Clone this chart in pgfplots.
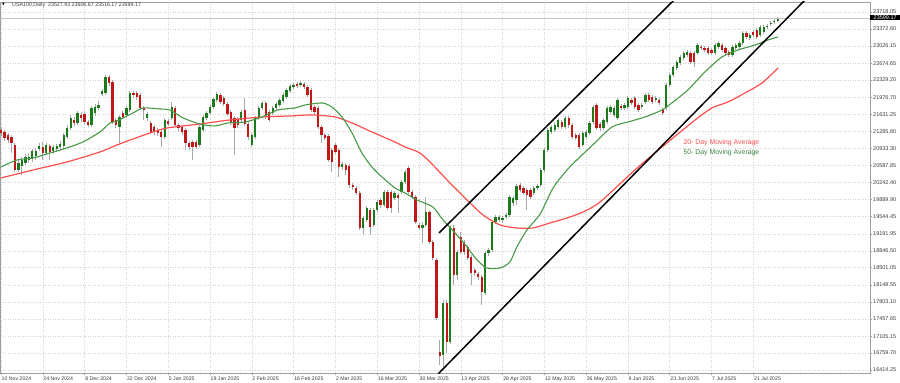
\documentclass[border=0pt]{standalone}
\usepackage{fontspec}
\setmainfont{Liberation Sans}
\newfontfamily\symfont{DejaVu Sans}
\usepackage{pgfplots}
\usepackage{pgfplotstable}
\pgfplotsset{compat=1.18}
\definecolor{cgreen}{RGB}{28,122,28}
\definecolor{cred}{RGB}{192,24,24}
\definecolor{wick}{RGB}{168,168,168}
\definecolor{mared}{RGB}{255,78,78}
\definecolor{magreen}{RGB}{72,152,72}
\definecolor{gridc}{RGB}{212,212,212}
\definecolor{lblc}{RGB}{60,60,60}

\pgfplotstableread{
i o h l c
0 21311 21372 21189 21250
1 21270 21311 21087 21148
2 21209 21250 21046 21107
3 21168 21209 20842 21046
4 21005 21046 20454 20495
5 20495 20699 20454 20638
6 20577 20760 20393 20699
7 20638 20821 20597 20760
8 20699 20842 20638 20760
9 20719 20923 20658 20883
10 20781 20944 20699 20883
11 20923 21046 20883 20985
12 20964 21066 20699 20842
13 20842 21046 20801 21005
14 20985 21025 20699 20862
15 20883 21005 20821 20964
16 20923 21025 20862 20985
17 20964 21087 20903 21025
18 20985 21250 20923 21209
19 21168 21413 21127 21352
20 21352 21617 21311 21556
21 21515 21576 21393 21454
22 21454 21699 21413 21658
23 21617 21678 21474 21556
24 21637 21699 21433 21474
25 21474 21515 21372 21413
26 21413 21801 21372 21760
27 21658 21841 21597 21780
28 21760 21903 21719 21821
29 22045 22147 22005 22107
30 22066 22433 22025 22392
31 22392 22433 22209 22270
32 22290 22331 21433 21474
33 21515 21556 21352 21413
34 21372 21617 21046 21576
35 21658 21699 21535 21576
36 21617 21801 21576 21760
37 21719 22107 21678 22066
38 22066 22107 21964 22025
39 22066 22107 21923 21984
40 22025 22066 21719 21760
41 21760 21801 21515 21719
42 21556 21678 21495 21637
43 21454 21495 21229 21270
44 21372 21413 21209 21270
45 21311 21352 21189 21250
46 21270 21311 20964 21168
47 21168 21556 21127 21515
48 21495 21535 21393 21433
49 21556 21882 21515 21780
50 21760 21801 21372 21413
51 21413 21454 21291 21352
52 21372 21413 21209 21270
53 21311 21352 20903 21046
54 21046 21087 20903 20964
55 21066 21107 20699 20964
56 21066 21107 20923 20964
57 21005 21413 20964 21372
58 21311 21617 21270 21576
59 21556 21699 21515 21658
60 21658 21821 21617 21780
61 21780 21984 21739 21943
62 21923 22086 21882 22045
63 22025 22066 21841 21882
64 21964 22005 21801 21841
65 21841 21882 21597 21637
66 21678 21719 21413 21474
67 21556 21597 20801 21352
68 21535 21576 21352 21413
69 21515 21719 21474 21678
70 21719 21964 21393 21433
71 21433 21474 21107 21168
72 21005 21250 20964 21209
73 21168 21597 21127 21556
74 21556 21801 21515 21760
75 21760 21903 21719 21862
76 21862 21903 21535 21576
77 21678 21719 21474 21515
78 21658 21801 21617 21760
79 21760 21882 21719 21841
80 21821 21964 21780 21923
81 21903 22066 21862 22025
82 21984 22168 21943 22127
83 22107 22249 22066 22209
84 22188 22270 22147 22229
85 22249 22290 22168 22209
86 22229 22311 22188 22270
87 22249 22290 22147 22188
88 22188 22229 21984 22025
89 22127 22168 21678 21719
90 21780 21821 21637 21678
91 21760 21801 21331 21372
92 21372 21413 21046 21209
93 21209 21250 21107 21148
94 21189 21229 20658 20699
95 20903 20944 20454 20658
96 21005 21046 20821 20862
97 20903 20944 20352 20556
98 20556 20658 20495 20617
99 20597 20638 20393 20495
100 20577 20617 20128 20189
101 20189 20230 20087 20148
102 20128 20169 19985 20026
103 20026 20067 19271 19312
104 19312 19557 19169 19516
105 19475 19761 19434 19720
106 19679 19720 19169 19332
107 19373 19720 19332 19679
108 19679 19883 19638 19842
109 19883 19924 19720 19781
110 19781 20087 19740 20046
111 20046 20087 19679 19720
112 20046 20087 19618 19720
113 19924 20067 19883 20026
114 19985 20026 19618 19924
115 20046 20291 20005 20250
116 20250 20495 20209 20454
117 20536 20577 20005 20046
118 20046 20087 19903 19944
119 19944 19985 19393 19434
120 19373 19414 19271 19312
121 19312 19434 19006 19373
122 19373 19944 19332 19638
123 19638 19679 18985 19026
124 19026 19067 18659 18700
125 18659 18700 17435 17476
126 16782 17027 16517 16701
127 16721 17843 16476 17782
128 17782 17843 16762 16986
129 16986 19373 16945 19332
130 19312 19373 18149 18353
131 18353 18863 18251 18822
132 19128 19230 18782 18822
133 19026 19067 18761 18822
134 18924 18965 18659 18700
135 18720 18761 18149 18394
136 18455 18496 18333 18394
137 18373 18414 18251 18312
138 18312 18353 17741 18006
139 17986 18843 17945 18802
140 18802 18904 18741 18863
141 18863 19475 18822 19434
142 19434 19577 19393 19536
143 19475 19577 19434 19536
144 19475 19557 19414 19516
145 19536 19618 19495 19577
146 19577 19985 19536 19944
147 19822 19965 19761 19924
148 19883 20209 19781 20169
149 20189 20230 20046 20087
150 20128 20169 19985 20026
151 20087 20128 19679 19985
152 20087 20128 19903 19944
153 20026 20169 19985 20128
154 20128 20209 20087 20169
155 20189 20536 20148 20495
156 20495 20944 20454 20903
157 20903 21352 20862 21311
158 21270 21413 21229 21372
159 21311 21454 21270 21413
160 21372 21556 21331 21515
161 21474 21515 21331 21372
162 21372 21597 21331 21556
163 21556 21597 21352 21413
164 21413 21454 21127 21168
165 21209 21250 21107 21148
166 21209 21250 20923 20964
167 21005 21291 20964 21250
168 21168 21311 21127 21270
169 21250 21495 21209 21454
170 21474 21821 21433 21780
171 21821 21862 21311 21352
172 21433 21474 21291 21352
173 21352 21556 21311 21515
174 21474 21801 21433 21760
175 21678 21821 21637 21780
176 21617 21801 21576 21760
177 21556 21964 21515 21923
178 21801 21841 21719 21760
179 21760 21862 21719 21821
180 21780 22005 21739 21964
181 21923 21964 21821 21862
182 21964 22005 21739 21780
183 21821 21862 21678 21719
184 21780 21862 21739 21821
185 21882 22066 21841 22025
186 22025 22066 21882 21923
187 21984 22025 21841 21882
188 21923 22005 21882 21964
189 21923 21964 21821 21862
190 21719 21760 21617 21658
191 21760 22270 21719 22229
192 22229 22474 22188 22433
193 22433 22637 22392 22596
194 22576 22739 22535 22698
195 22678 22841 22637 22800
196 22780 22923 22739 22882
197 22841 22943 22800 22902
198 22882 22923 22657 22698
199 22882 22923 22596 22698
200 22882 23086 22841 23045
201 23004 23045 22943 22984
202 22984 23025 22902 22943
203 22984 23025 22841 22882
204 22943 22984 22841 22882
205 22882 23086 22841 23045
206 23004 23127 22963 23086
207 23045 23086 22902 22943
208 22984 23025 22841 22882
209 22902 22943 22800 22841
210 22841 23045 22800 23004
211 22984 23086 22943 23045
212 23004 23127 22963 23086
213 23086 23331 23045 23290
214 23290 23331 23167 23208
215 23188 23290 23147 23249
216 23310 23351 23208 23249
217 23351 23392 23167 23208
218 23249 23453 23208 23412
219 23310 23453 23269 23412
220 23412 23473 23371 23433
221 23473 23535 23433 23494
222 23514 23575 23473 23535
223 23527.93 23606.67 23516.17 23599.17
}\candles

\begin{document}
\begin{tikzpicture}
\begin{axis}[
  at={(0pt,0pt)}, anchor=south west,
  scale only axis, width=870pt, height=371pt,
  xmin=-0.287, xmax=249.5, ymin=16353, ymax=23922,
  scaled x ticks=false, scaled y ticks=false,
  axis line style={draw=gray!75, line width=0.6pt},
  xtick={0,12,...,216},
  xticklabels={10 Nov 2024,24 Nov 2024,8 Dec 2024,22 Dec 2024,5 Jan 2025,19 Jan 2025,2 Feb 2025,16 Feb 2025,2 Mar 2025,16 Mar 2025,30 Mar 2025,13 Apr 2025,28 Apr 2025,12 May 2025,26 May 2025,9 Jun 2025,23 Jun 2025,7 Jul 2025,21 Jul 2025},
  ytick={16414.25,16759.70,17105.15,17457.65,17803.10,18148.55,18501.05,18846.50,19191.95,19544.45,19889.90,20242.40,20587.85,20933.30,21285.80,21631.25,21976.70,22329.20,22674.65,23026.15,23372.60,23718.05},
  yticklabels={16414.25,16759.70,17105.15,17457.65,17803.10,18148.55,18501.05,18846.50,19191.95,19544.45,19889.90,20242.40,20587.85,20933.30,21285.80,21631.25,21976.70,22329.20,22674.65,23026.15,23372.60,23718.05},
  xtick pos=left, ytick pos=right, yticklabel pos=right,
  tick align=outside, major tick length=2pt,
  tick style={draw=gray!75, line width=0.5pt},
  xticklabel style={anchor=north west, inner sep=0pt, xshift=0.5pt, yshift=-1.5pt, text=lblc, font=\fontsize{5.2}{6}\selectfont},
  yticklabel style={anchor=west, inner sep=0pt, xshift=1pt, text=lblc, font=\fontsize{5.5}{6}\selectfont},
  grid=major, grid style={draw=gridc, line width=0.5pt, dash pattern=on 1pt off 1.5pt},
  clip=true,
]
% wicks
\addplot[draw=none, mark=none, forget plot,
  error bars/.cd, y dir=plus, y explicit, error mark=none,
  error bar style={draw=wick, line width=0.9pt}]
  table[x=i, y=l, y error expr={\thisrow{h}-\thisrow{l}}] {\candles};
% green bodies
\addplot[draw=none, mark=none, forget plot,
  error bars/.cd, y dir=plus, y explicit, error mark=none,
  error bar style={draw=cgreen, line width=2.3pt}]
  table[x=i, y=o, y error expr={max(\thisrow{c}-\thisrow{o},0)}] {\candles};
% red bodies
\addplot[draw=none, mark=none, forget plot,
  error bars/.cd, y dir=plus, y explicit, error mark=none,
  error bar style={draw=cred, line width=2.3pt}]
  table[x=i, y=c, y error expr={max(\thisrow{o}-\thisrow{c},0)}] {\candles};
% bid line
\addplot[gray!45, line width=0.5pt, forget plot] coordinates {(-0.287,23599.17) (249.5,23599.17)};
% slow MA (red)
\addplot[mared, line width=1.2pt, smooth, tension=0.45] coordinates {
(0,20332) (9.2,20495) (18.9,20658) (28.4,20862) (33.3,21005) (37.9,21127) (42.8,21250) (47.7,21352) (57.1,21433) (65.7,21515) (74.9,21576) (83.0,21597) (89.3,21617) (95.9,21576) (100.8,21454) (106.5,21270) (113.1,21066) (116.0,20964) (120.3,20841) (124.0,20597) (128.9,20230) (133.8,19883) (138.4,19577) (143.3,19373) (148.1,19312) (152.7,19312) (157.6,19414) (162.5,19516) (167.1,19638) (172.0,19842) (182.0,20495) (189.8,20964) (199.3,21515) (204.1,21760) (208.7,21882) (213.6,22066) (218.5,22270) (223.1,22576)};
% fast MA (green)
\addplot[magreen, line width=1.1pt, smooth, tension=0.45] coordinates {
(0,20556) (4.6,20699) (9.2,20740) (14.1,20842) (18.9,20944) (23.5,21066) (28.4,21270) (31.3,21454) (33.3,21495) (37.9,21658) (40.8,21760) (45.7,21739) (48.5,21719) (52.3,21556) (57.1,21433) (61.4,21393) (65.2,21454) (70.1,21474) (74.9,21576) (79.5,21719) (84.4,21760) (87.3,21821) (92.2,21862) (95.0,21780) (97.9,21576) (100.8,21250) (103.6,20842) (106.5,20556) (109.4,20352) (113.1,20128) (116.0,20026) (119.4,19883) (124.0,19740) (126.9,19475) (130.9,19169) (133.8,18924) (136.7,18659) (139.5,18496) (143.3,18496) (146.1,18618) (148.1,18924) (151.0,19271) (154.8,19598) (158.5,20128) (162.5,20495) (166.2,20760) (170.5,21046) (175.4,21372) (180.0,21474) (184.9,21576) (189.8,21719) (192.6,21862) (197.2,22127) (202.1,22494) (207.0,22800) (211.6,22943) (216.5,23045) (220.2,23147) (223.1,23208)};
% channel lines
\addplot[black, line width=1.5pt] coordinates {(125.75,19210) (194.7,24065)};
\addplot[black, line width=1.5pt] coordinates {(125.5,16333) (231.1,23983)};
% legend texts
\node[anchor=west, inner sep=0pt, text=mared, font=\fontsize{6.9}{8}\selectfont] at (axis cs:195.9,21046) {20- Day Moving Average};
\node[anchor=west, inner sep=0pt, text=magreen!85!black, font=\fontsize{6.9}{8}\selectfont] at (axis cs:195.9,20842) {50- Day Moving Average};
\coordinate (pricetag) at (axis cs:249.5,23599.17);
\end{axis}
\node[anchor=west, fill=black, text=white, inner xsep=1.5pt, inner ysep=0.7pt, minimum width=30pt, font=\fontsize{5.5}{6}\selectfont] at (pricetag) {23599.17};
\node[anchor=west, inner sep=0pt, font=\symfont\fontsize{3.5}{4}\selectfont] at (2pt,368.5pt) {▼};
\node[anchor=west, inner sep=0pt, text=lblc, font=\fontsize{5.3}{6}\selectfont] at (12pt,368pt) {USA100,Daily\ \ 23527.93 23606.67 23516.17 23599.17};
\pgfresetboundingbox
\path[use as bounding box] (0pt,-10pt) rectangle (900pt,373pt);
\end{tikzpicture}
\end{document}
